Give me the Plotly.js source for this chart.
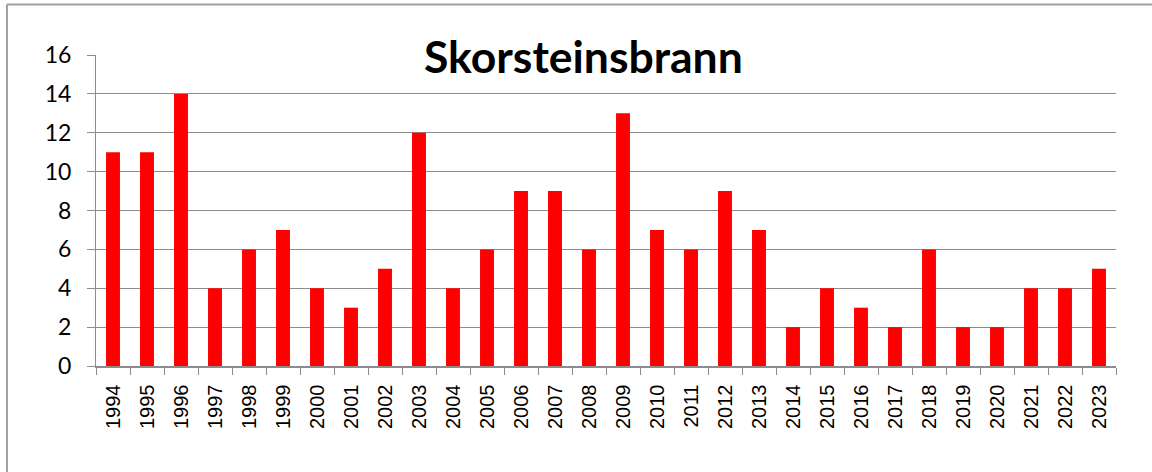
<!DOCTYPE html>
<html>
<head>
<meta charset="utf-8">
<script src="https://cdn.plot.ly/plotly-3.0.1.min.js"></script>
<style>
html,body{margin:0;padding:0;background:#fff;}
#chart{width:1152px;height:472px;}
</style>
</head>
<body>
<div id="chart"></div>
<script>
const years = ["1994","1995","1996","1997","1998","1999","2000","2001","2002","2003","2004","2005","2006","2007","2008","2009","2010","2011","2012","2013","2014","2015","2016","2017","2018","2019","2020","2021","2022","2023"];
const fires = [11,11,14,4,6,7,4,3,5,12,4,6,9,9,6,13,7,6,9,7,2,4,3,2,6,2,2,4,4,5];
const yTicks = [0,2,4,6,8,10,12,14,16];
const chartTitle = "Skorsteinsbrann";

const trace = {
  type: 'bar',
  x: years,
  y: fires,
  marker: {color: '#ff0000', line: {width: 0}},
  hoverinfo: 'x+y'
};

const layout = {
  width: 1152, height: 472,
  margin: {l: 96, r: 36, t: 54.5, b: 106, pad: 0},
  paper_bgcolor: '#ffffff',
  plot_bgcolor: '#ffffff',
  showlegend: false,
  bargap: 0.59,
  font: {family: 'Lato, Liberation Sans, sans-serif', color: '#000'},
  xaxis: {
    type: 'category',
    tickangle: -90,
    tickson: 'boundaries',
    ticks: 'outside', ticklen: 7, tickcolor: '#8c8c8c', tickwidth: 1,
    showline: true, linecolor: '#8c8c8c', linewidth: 1.5,
    showgrid: false, zeroline: false,
    tickfont: {family: 'Liberation Sans, Arial, sans-serif', size: 20, color: '#000'},
    ticklabelstandoff: 9,
    fixedrange: true
  },
  yaxis: {
    range: [0, 16],
    tickvals: yTicks,
    ticktext: yTicks.map(String),
    ticks: 'outside', ticklen: 8, tickcolor: '#8c8c8c', tickwidth: 1,
    showline: true, linecolor: '#8c8c8c', linewidth: 1,
    showgrid: true, gridcolor: '#8c8c8c', gridwidth: 1,
    zeroline: false,
    tickfont: {family: 'Lato, sans-serif', size: 23, color: '#000'},
    ticklabelstandoff: 11,
    fixedrange: true
  },
  shapes: [
    {type: 'line', xref: 'paper', yref: 'paper', x0: -0.0873, x1: 1.05, y0: 1.162, y1: 1.162,
     line: {color: '#a0a0a0', width: 2}},
    {type: 'line', xref: 'paper', yref: 'paper', x0: -0.0873, x1: -0.0873, y0: 1.162, y1: -0.36,
     line: {color: '#a0a0a0', width: 2}}
  ],
  annotations: [
    {text: '<b>' + chartTitle + '</b>', xref: 'paper', yref: 'paper', x: 0.478, y: 1,
     xanchor: 'center', yanchor: 'middle', showarrow: false, bgcolor: '#ffffff', borderpad: 0,
     font: {family: 'Lato, sans-serif', size: 44.5, color: '#000'}},
    {text: '<b>y</b>', xref: 'paper', yref: 'paper', x: 0.302, y: 1.162,
     xanchor: 'center', yanchor: 'bottom', yshift: 6, showarrow: false, borderpad: 0,
     font: {family: 'Lato, sans-serif', size: 20, color: '#000'}}
  ]
};

Plotly.newPlot('chart', [trace], layout, {displayModeBar: false, staticPlot: true});
</script>
</body>
</html>
